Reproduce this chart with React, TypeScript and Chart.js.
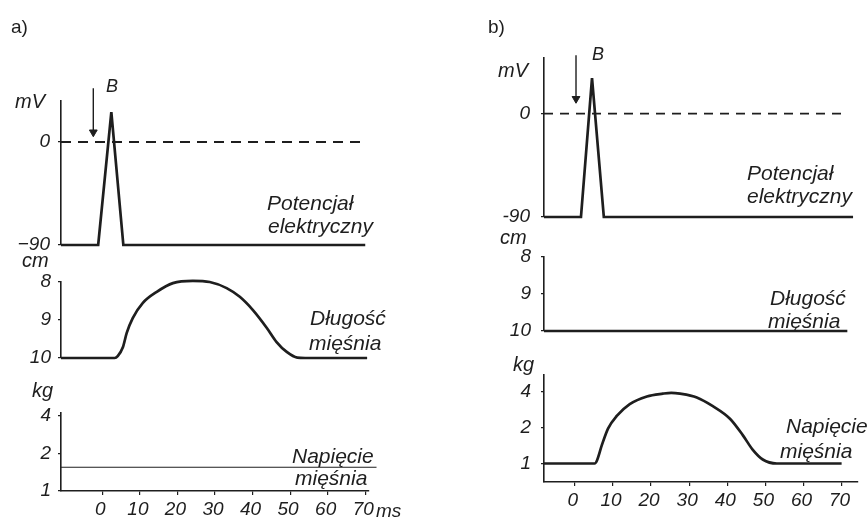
import React, { useEffect, useRef } from 'react';
import { Chart, registerables } from 'chart.js';

Chart.register(...registerables);

// ---------- shared ticks ----------
const timeTicks = [0, 10, 20, 30, 40, 50, 60, 70];
const mvTicks = [0, -90];
const cmTicks = [8, 9, 10];
const kgTicks = [1, 2, 4];

// ---------- panel a ----------
const aPotentialT = [-11, -1.1, 2.4, 5.6, 70];
const aPotentialMV = [-90, -90, 26, -90, -90];
const aZeroT = [-11, 70];
const aZeroMV = [0, 0];
const aArrowT = [-2.4, -2.4];
const aArrowMV = [47, 8.5];
const aLengthT = [-11, 3.3, 4.1, 5.5, 6.5, 8.1, 10.8, 14.5, 18.8, 24.1, 28.6, 33.1, 36.6, 40.1, 43.8, 46.4, 49.1, 51.9, 54, 70.5];
const aLengthCM = [10, 10, 9.95, 9.71, 9.34, 8.95, 8.55, 8.26, 8.03, 7.97, 8.0, 8.16, 8.39, 8.74, 9.21, 9.58, 9.84, 9.99, 10, 10];
const aTensionT = [-11, 73];
const aTensionKG = [1.55, 1.55];

// ---------- panel b ----------
const bPotentialT = [-8.1, 1.6, 4.5, 7.6, 73];
const bPotentialMV = [-90, -90, 31, -90, -90];
const bZeroT = [-8.1, 70.3];
const bZeroMV = [0, 0];
const bArrowT = [0.3, 0.3];
const bArrowMV = [51, 13];
const bLengthT = [-8.1, 71.5];
const bLengthCM = [10, 10];
const bTensionT = [-8.1, 5.2, 5.8, 7.1, 8.7, 11.0, 14.4, 18.9, 23.1, 25.3, 27.6, 32.0, 36.2, 40.7, 44.1, 46.7, 49.3, 53.0, 70];
const bTensionKG = [1, 1, 1.06, 1.43, 1.96, 2.5, 3.14, 3.64, 3.84, 3.9, 3.84, 3.57, 3.02, 2.37, 1.72, 1.3, 1.08, 1, 1];

const W = 867;
const H = 520;
const YW = 50;
const XH = 30;
const INK = '#1e1e1e';
const FONT = "'Liberation Sans', Arial, sans-serif";

const pts = (t: number[], v: number[]) => t.map((x, i) => ({ x, y: v[i] }));

const lineDs = (t: number[], v: number[], extra: any = {}) => ({
  data: pts(t, v),
  borderColor: INK,
  backgroundColor: INK,
  borderWidth: 2.7,
  pointRadius: 0,
  tension: 0,
  clip: false as any,
  ...extra,
});

const arrowDs = (t: number[], v: number[]) => ({
  data: pts(t, v),
  borderColor: INK,
  backgroundColor: INK,
  borderWidth: 1.4,
  pointRadius: [0, 4.5],
  pointStyle: 'triangle',
  pointRotation: 180,
  pointBackgroundColor: INK,
  pointBorderColor: INK,
  pointBorderWidth: 1,
  clip: false as any,
});

type Sub = {
  left: number; right: number; top: number; bottom: number;
  xMin: number; xMax: number;
  yType: 'linear' | 'logarithmic';
  yMin: number; yMax: number; reverse?: boolean;
  yTicks: number[]; yLabel: (v: number) => string;
  showX: boolean; tickPad: number;
  datasets: any[];
};

const subs: Sub[] = [
  // a1 potential
  {
    left: 61, right: 369, top: 101, bottom: 245, xMin: -11, xMax: 71,
    yType: 'linear', yMin: -90, yMax: 35.8, yTicks: mvTicks,
    yLabel: (v) => (v === -90 ? '\u221290' : String(v)), showX: false, tickPad: 8,
    datasets: [
      lineDs(aZeroT, aZeroMV, { borderWidth: 1.9, borderDash: [10, 7] }),
      lineDs(aPotentialT, aPotentialMV),
      arrowDs(aArrowT, aArrowMV),
    ],
  },
  // a2 length
  {
    left: 61, right: 369, top: 282, bottom: 358, xMin: -11, xMax: 71,
    yType: 'linear', yMin: 8, yMax: 10, reverse: true, yTicks: cmTicks,
    yLabel: (v) => String(v), showX: false, tickPad: 7,
    datasets: [lineDs(aLengthT, aLengthCM, { cubicInterpolationMode: 'monotone' })],
  },
  // a3 tension
  {
    left: 61, right: 369, top: 413, bottom: 491, xMin: -11, xMax: 71,
    yType: 'logarithmic', yMin: 1, yMax: 4.2, yTicks: kgTicks,
    yLabel: (v) => String(v), showX: true, tickPad: 7,
    datasets: [lineDs(aTensionT, aTensionKG, { borderWidth: 1.1 })],
  },
  // b1 potential
  {
    left: 544, right: 858, top: 58, bottom: 217, xMin: -8.1, xMax: 74.3,
    yType: 'linear', yMin: -90, yMax: 48.5, yTicks: mvTicks,
    yLabel: (v) => String(v), showX: false, tickPad: 11,
    datasets: [
      lineDs(bZeroT, bZeroMV, { borderWidth: 1.8, borderDash: [9, 7] }),
      lineDs(bPotentialT, bPotentialMV),
      arrowDs(bArrowT, bArrowMV),
    ],
  },
  // b2 length
  {
    left: 544, right: 858, top: 257, bottom: 331, xMin: -8.1, xMax: 74.3,
    yType: 'linear', yMin: 8, yMax: 10, reverse: true, yTicks: cmTicks,
    yLabel: (v) => String(v), showX: false, tickPad: 10,
    datasets: [lineDs(bLengthT, bLengthCM)],
  },
  // b3 tension
  {
    left: 544, right: 858, top: 375, bottom: 482, xMin: -8.1, xMax: 74.3,
    yType: 'logarithmic', yMin: 0.74, yMax: 5.5, yTicks: kgTicks,
    yLabel: (v) => String(v), showX: true, tickPad: 10,
    datasets: [lineDs(bTensionT, bTensionKG, { cubicInterpolationMode: 'monotone' })],
  },
];

function makeChart(canvas: HTMLCanvasElement, s: Sub) {
  const font = { family: FONT, size: 19, style: 'italic' as const };
  return new Chart(canvas, {
    type: 'line',
    data: { datasets: s.datasets },
    options: {
      animation: false,
      responsive: false,
      devicePixelRatio: 1,
      events: [],
      layout: {
        autoPadding: false,
        padding: {
          left: s.left - YW,
          right: W - s.right,
          top: s.top,
          bottom: s.showX ? H - s.bottom - XH : H - s.bottom,
        },
      },
      plugins: { legend: { display: false }, tooltip: { enabled: false } },
      scales: {
        x: {
          type: 'linear',
          min: s.xMin,
          max: s.xMax,
          display: s.showX,
          afterFit: (sc: any) => { sc.height = s.showX ? XH : 0; },
          afterBuildTicks: (sc: any) => { sc.ticks = timeTicks.map((v) => ({ value: v })); },
          grid: { drawOnChartArea: false, tickLength: 4, color: INK, lineWidth: 1.2 },
          border: { display: true, color: INK, width: 1.6 },
          ticks: {
            font, color: INK, padding: 3, maxRotation: 0, autoSkip: false, labelOffset: -2,
            callback: (v: any) => String(v),
          },
        },
        y: {
          type: s.yType,
          min: s.yMin,
          max: s.yMax,
          reverse: !!s.reverse,
          afterFit: (sc: any) => { sc.width = YW; },
          afterBuildTicks: (sc: any) => { sc.ticks = s.yTicks.map((v) => ({ value: v })); },
          grid: { drawOnChartArea: false, tickLength: 3, color: INK, lineWidth: 1.2 },
          border: { display: true, color: INK, width: 1.6 },
          ticks: {
            font, color: INK, padding: s.tickPad, autoSkip: false,
            callback: (v: any) => s.yLabel(Number(v)),
          },
        },
      },
    } as any,
  });
}

type T = { text: string; x: number; base: number; size: number; italic?: boolean };
const texts: T[] = [
  { text: 'a)', x: 11, base: 33, size: 19 },
  { text: 'mV', x: 15, base: 108, size: 20, italic: true },
  { text: 'B', x: 106, base: 92, size: 18, italic: true },
  { text: 'Potencjał', x: 267, base: 210, size: 21, italic: true },
  { text: 'elektryczny', x: 268, base: 233, size: 21, italic: true },
  { text: 'cm', x: 22, base: 267, size: 20, italic: true },
  { text: 'Długość', x: 310, base: 325, size: 21, italic: true },
  { text: 'mięśnia', x: 309, base: 350, size: 21, italic: true },
  { text: 'kg', x: 32, base: 397, size: 20, italic: true },
  { text: 'Napięcie', x: 292, base: 463, size: 21, italic: true },
  { text: 'mięśnia', x: 295, base: 485, size: 21, italic: true },
  { text: 'ms', x: 376, base: 517, size: 19, italic: true },
  { text: 'b)', x: 488, base: 33, size: 19 },
  { text: 'mV', x: 498, base: 77, size: 20, italic: true },
  { text: 'B', x: 592, base: 60, size: 18, italic: true },
  { text: 'Potencjał', x: 747, base: 180, size: 21, italic: true },
  { text: 'elektryczny', x: 747, base: 203, size: 21, italic: true },
  { text: 'cm', x: 500, base: 244, size: 20, italic: true },
  { text: 'Długość', x: 770, base: 305, size: 21, italic: true },
  { text: 'mięśnia', x: 768, base: 328, size: 21, italic: true },
  { text: 'kg', x: 513, base: 371, size: 20, italic: true },
  { text: 'Napięcie', x: 786, base: 433, size: 21, italic: true },
  { text: 'mięśnia', x: 780, base: 458, size: 21, italic: true },
];

export default function App() {
  const refs = useRef<(HTMLCanvasElement | null)[]>([]);
  useEffect(() => {
    const charts = subs.map((s, i) => makeChart(refs.current[i] as HTMLCanvasElement, s));
    return () => charts.forEach((c) => c.destroy());
  }, []);
  return (
    <div
      style={{
        position: 'fixed', left: 0, top: 0, width: W, height: H,
        overflow: 'hidden', background: '#fff', fontFamily: FONT, color: INK,
      }}
    >
      {subs.map((_, i) => (
        <canvas
          key={i}
          ref={(el) => { refs.current[i] = el; }}
          width={W}
          height={H}
          style={{ position: 'absolute', left: 0, top: 0, width: W, height: H }}
        />
      ))}
      {texts.map((t, i) => (
        <div
          key={'t' + i}
          style={{
            position: 'absolute',
            left: t.x,
            top: t.base - 0.8465 * t.size,
            fontSize: t.size,
            lineHeight: `${t.size}px`,
            fontStyle: t.italic ? 'italic' : 'normal',
            whiteSpace: 'nowrap',
          }}
        >
          {t.text}
        </div>
      ))}
    </div>
  );
}
